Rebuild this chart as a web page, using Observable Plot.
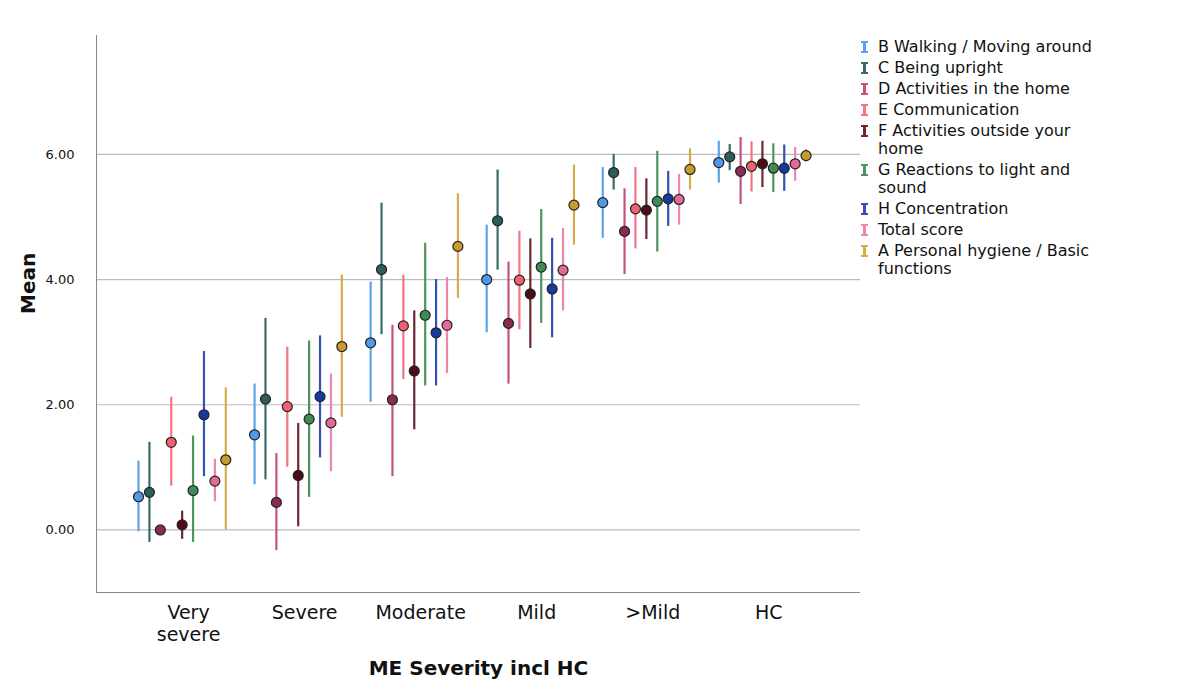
<!DOCTYPE html>
<html><head><meta charset="utf-8">
<script src="https://cdn.jsdelivr.net/npm/d3@7"></script>
<script src="https://cdn.jsdelivr.net/npm/@observablehq/plot@0.6"></script>
<style>
body{margin:0;background:#fff;font-family:"DejaVu Sans",sans-serif;}
#wrap{position:relative;width:1200px;height:689px;}
#legend{position:absolute;left:860px;top:38px;font-size:16px;color:#111;line-height:18px;}
.it{display:flex;align-items:flex-start;margin-bottom:3px;}
.sw{width:3px;height:12px;margin:3px 12px 0 3px;position:relative;}
.sw:before,.sw:after{content:"";position:absolute;left:-2px;width:7px;height:2px;background:inherit;}
.sw:before{top:0}.sw:after{bottom:0}
</style></head><body><div id="wrap"><div id="legend"></div></div>
<script>
const groups = ["Very\nsevere","Severe","Moderate","Mild",">Mild","HC"];
const seriesNames = ["B Walking / Moving around","C Being upright","D Activities in the home","E Communication","F Activities outside your\nhome","G Reactions to light and\nsound","H Concentration","Total score","A Personal hygiene / Basic\nfunctions"];
const dotColors = ["#4f9ae6","#2c5d5c","#8a2a55","#ef6371","#4a0f16","#3f8b55","#173a9e","#e2699a","#c79c2c"];
const barColors = ["#5aa3e8","#3a6b6a","#c5527d","#f27584","#6e2630","#4e9463","#3550b0","#ec86ad","#d4ad46"];
// mean per group (rows: series in order above; cols: groups)
const means = [
 [0.53,1.52,2.99,4.00,5.23,5.87],
 [0.60,2.09,4.16,4.94,5.71,5.96],
 [0.00,0.44,2.08,3.30,4.77,5.73],
 [1.40,1.97,3.26,3.99,5.13,5.81],
 [0.08,0.87,2.54,3.77,5.11,5.85],
 [0.63,1.77,3.43,4.20,5.25,5.78],
 [1.84,2.13,3.15,3.85,5.29,5.78],
 [0.78,1.71,3.27,4.15,5.28,5.85],
 [1.12,2.93,4.53,5.19,5.76,5.98]
];
const lows = [
 [-0.03,0.72,2.04,3.15,4.66,5.54],
 [-0.20,0.80,3.12,4.15,5.43,5.74],
 [0.00,-0.33,0.85,2.33,4.08,5.20],
 [0.70,1.00,2.40,3.20,4.49,5.40],
 [-0.15,0.05,1.60,2.90,4.64,5.47],
 [-0.20,0.52,2.30,3.30,4.44,5.39],
 [0.85,1.15,2.30,3.07,4.85,5.41],
 [0.45,0.93,2.50,3.50,4.87,5.57],
 [0.00,1.80,3.70,4.55,5.43,5.88]
];
const highs = [
 [1.10,2.33,3.96,4.87,5.79,6.21],
 [1.40,3.38,5.22,5.75,6.00,6.16],
 [0.00,1.22,3.27,4.28,5.45,6.27],
 [2.12,2.92,4.07,4.77,5.79,6.20],
 [0.30,1.70,3.50,4.65,5.61,6.21],
 [1.50,3.02,4.58,5.12,6.05,6.17],
 [2.85,3.10,4.00,4.66,5.73,6.15],
 [1.13,2.49,4.03,4.82,5.68,6.11],
 [2.27,4.07,5.37,5.83,6.09,6.08]
];
const rows = [];
seriesNames.forEach((s,i)=>groups.forEach((g,j)=>rows.push({
  s:i, x: j - 0.055 + (i-4)*0.094, mean: means[i][j], lo: lows[i][j], hi: highs[i][j]
})));
const xmin=-0.793, xmax=5.79, ymin=-1, ymax=7.9;
const chart = Plot.plot({
  width:1200, height:689,
  marginLeft:96, marginRight:340, marginTop:35, marginBottom:97,
  style:{fontFamily:"DejaVu Sans, sans-serif", color:"#111", background:"transparent"},
  x:{domain:[xmin,xmax]},
  y:{domain:[ymin,ymax]},
  marks:[
    Plot.ruleY([0,2,4,6],{stroke:"#bbb",strokeWidth:1.2}),
    Plot.ruleX([xmin],{stroke:"#888"}),
    Plot.ruleY([ymin],{stroke:"#888"}),
    Plot.axisY([0,2,4,6],{tickFormat:d=>d.toFixed(2),tickSize:0,tickPadding:22,fontSize:13,label:null}),
    Plot.axisX([0,1,2,3,4,5],{tickFormat:d=>groups[d],tickSize:0,tickPadding:10,fontSize:19,lineHeight:1.2,label:null}),
    Plot.text(["Mean"],{frameAnchor:"left",dx:-68,rotate:-90,fontSize:20,fontWeight:"bold"}),
    Plot.text(["ME Severity incl HC"],{frameAnchor:"bottom",dy:82,fontSize:20,fontWeight:"bold"}),
    Plot.ruleX(rows,{x:"x",y1:"lo",y2:"hi",stroke:d=>barColors[d.s],strokeWidth:2.2}),
    Plot.dot(rows,{x:"x",y:"mean",r:5,fill:d=>dotColors[d.s],stroke:"#222",strokeWidth:1.2})
  ]
});
document.getElementById("wrap").prepend(chart);
const lg=document.getElementById("legend");
seriesNames.forEach((s,i)=>{
  const d=document.createElement("div");d.className="it";
  const sw=document.createElement("div");sw.className="sw";sw.style.background=barColors[i];
  const t=document.createElement("div");t.innerHTML=s.replace("\n","<br>");
  d.append(sw,t);lg.append(d);
});
</script></body></html>
